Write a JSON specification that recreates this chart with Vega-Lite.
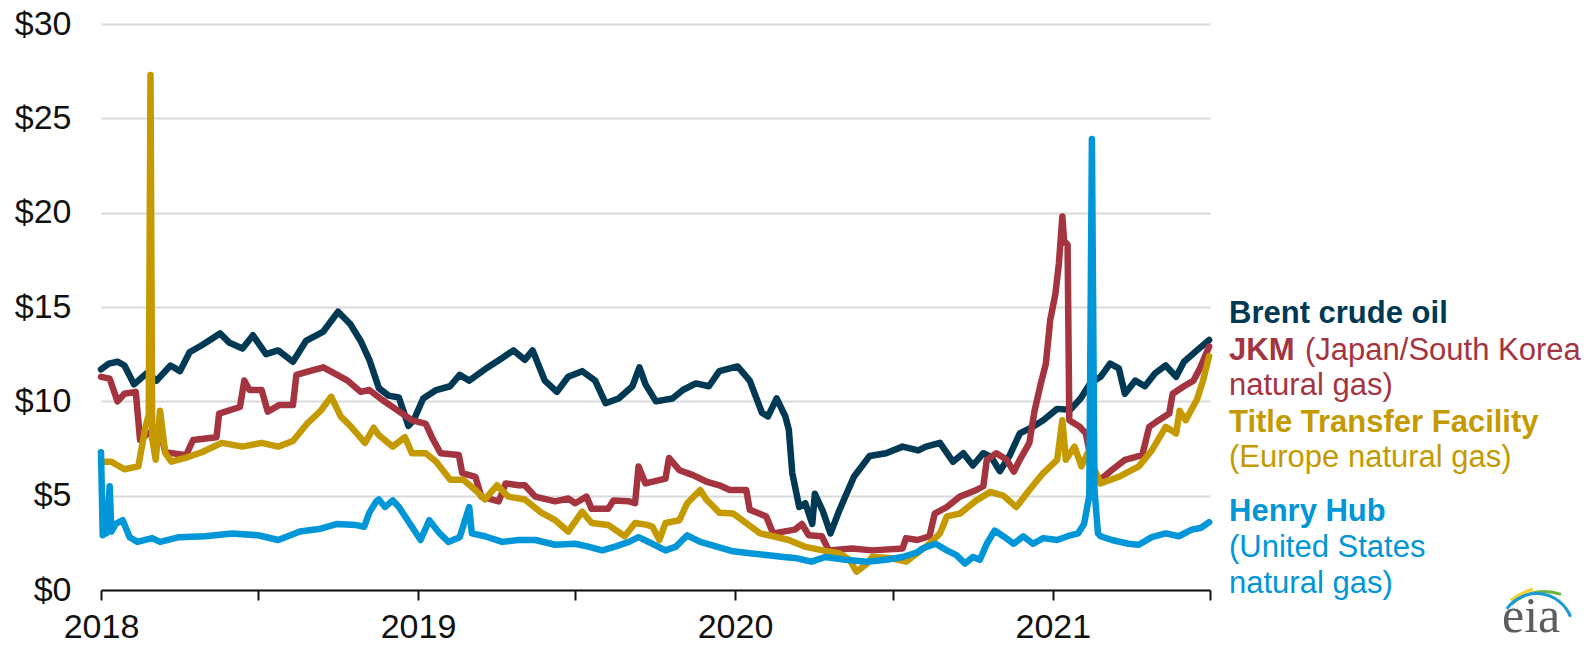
{
  "$schema": "https://vega.github.io/schema/vega-lite/v6.json",
  "autosize": {"type": "none"},
  "width": 1109,
  "height": 566,
  "padding": {"left": 101, "top": 24, "right": 378, "bottom": 56},
  "background": "white",
  "config": {"view": {"stroke": null}, "font": "Liberation Sans"},
  "datasets": {
    "prices": [
      {"s":"Brent","d":"2018-01-01","v":11.7},{"s":"Brent","d":"2018-01-10","v":12.0},{"s":"Brent","d":"2018-01-20","v":12.1},{"s":"Brent","d":"2018-01-28","v":11.9},{"s":"Brent","d":"2018-02-08","v":10.9},{"s":"Brent","d":"2018-02-23","v":11.5},{"s":"Brent","d":"2018-03-06","v":11.1},{"s":"Brent","d":"2018-03-22","v":11.9},{"s":"Brent","d":"2018-04-02","v":11.6},{"s":"Brent","d":"2018-04-13","v":12.6},{"s":"Brent","d":"2018-04-28","v":13.0},{"s":"Brent","d":"2018-05-18","v":13.6},{"s":"Brent","d":"2018-05-29","v":13.1},{"s":"Brent","d":"2018-06-13","v":12.8},{"s":"Brent","d":"2018-06-25","v":13.5},{"s":"Brent","d":"2018-07-10","v":12.5},{"s":"Brent","d":"2018-07-24","v":12.7},{"s":"Brent","d":"2018-08-10","v":12.1},{"s":"Brent","d":"2018-08-25","v":13.2},{"s":"Brent","d":"2018-09-14","v":13.7},{"s":"Brent","d":"2018-10-01","v":14.75},{"s":"Brent","d":"2018-10-15","v":14.1},{"s":"Brent","d":"2018-10-27","v":13.2},{"s":"Brent","d":"2018-11-06","v":12.2},{"s":"Brent","d":"2018-11-17","v":10.7},{"s":"Brent","d":"2018-11-28","v":10.3},{"s":"Brent","d":"2018-12-10","v":10.2},{"s":"Brent","d":"2018-12-21","v":8.7},{"s":"Brent","d":"2018-12-27","v":9.0},{"s":"Brent","d":"2019-01-07","v":10.15},{"s":"Brent","d":"2019-01-22","v":10.6},{"s":"Brent","d":"2019-02-07","v":10.8},{"s":"Brent","d":"2019-02-18","v":11.4},{"s":"Brent","d":"2019-03-01","v":11.1},{"s":"Brent","d":"2019-03-19","v":11.7},{"s":"Brent","d":"2019-04-08","v":12.3},{"s":"Brent","d":"2019-04-21","v":12.7},{"s":"Brent","d":"2019-05-04","v":12.2},{"s":"Brent","d":"2019-05-13","v":12.7},{"s":"Brent","d":"2019-05-27","v":11.1},{"s":"Brent","d":"2019-06-10","v":10.5},{"s":"Brent","d":"2019-06-23","v":11.3},{"s":"Brent","d":"2019-07-09","v":11.6},{"s":"Brent","d":"2019-07-24","v":11.1},{"s":"Brent","d":"2019-08-05","v":9.9},{"s":"Brent","d":"2019-08-20","v":10.15},{"s":"Brent","d":"2019-09-05","v":10.8},{"s":"Brent","d":"2019-09-13","v":11.8},{"s":"Brent","d":"2019-09-20","v":10.9},{"s":"Brent","d":"2019-10-02","v":10.0},{"s":"Brent","d":"2019-10-21","v":10.15},{"s":"Brent","d":"2019-11-02","v":10.6},{"s":"Brent","d":"2019-11-17","v":10.95},{"s":"Brent","d":"2019-12-02","v":10.8},{"s":"Brent","d":"2019-12-14","v":11.6},{"s":"Brent","d":"2020-01-04","v":11.85},{"s":"Brent","d":"2020-01-18","v":11.1},{"s":"Brent","d":"2020-02-01","v":9.4},{"s":"Brent","d":"2020-02-08","v":9.2},{"s":"Brent","d":"2020-02-18","v":10.15},{"s":"Brent","d":"2020-02-28","v":9.2},{"s":"Brent","d":"2020-03-03","v":8.5},{"s":"Brent","d":"2020-03-07","v":6.2},{"s":"Brent","d":"2020-03-15","v":4.4},{"s":"Brent","d":"2020-03-22","v":4.6},{"s":"Brent","d":"2020-03-30","v":3.5},{"s":"Brent","d":"2020-04-02","v":5.1},{"s":"Brent","d":"2020-04-11","v":4.2},{"s":"Brent","d":"2020-04-20","v":3.0},{"s":"Brent","d":"2020-04-30","v":4.2},{"s":"Brent","d":"2020-05-07","v":4.95},{"s":"Brent","d":"2020-05-17","v":6.0},{"s":"Brent","d":"2020-06-04","v":7.1},{"s":"Brent","d":"2020-06-23","v":7.25},{"s":"Brent","d":"2020-07-12","v":7.6},{"s":"Brent","d":"2020-07-30","v":7.4},{"s":"Brent","d":"2020-08-08","v":7.6},{"s":"Brent","d":"2020-08-24","v":7.8},{"s":"Brent","d":"2020-09-08","v":6.8},{"s":"Brent","d":"2020-09-20","v":7.25},{"s":"Brent","d":"2020-10-01","v":6.6},{"s":"Brent","d":"2020-10-13","v":7.25},{"s":"Brent","d":"2020-10-22","v":7.05},{"s":"Brent","d":"2020-11-01","v":6.3},{"s":"Brent","d":"2020-11-12","v":7.1},{"s":"Brent","d":"2020-11-24","v":8.3},{"s":"Brent","d":"2020-12-09","v":8.65},{"s":"Brent","d":"2020-12-21","v":9.0},{"s":"Brent","d":"2021-01-06","v":9.6},{"s":"Brent","d":"2021-01-21","v":9.55},{"s":"Brent","d":"2021-02-02","v":10.15},{"s":"Brent","d":"2021-02-13","v":10.95},{"s":"Brent","d":"2021-02-25","v":11.3},{"s":"Brent","d":"2021-03-08","v":12.0},{"s":"Brent","d":"2021-03-18","v":11.75},{"s":"Brent","d":"2021-03-25","v":10.4},{"s":"Brent","d":"2021-04-06","v":11.1},{"s":"Brent","d":"2021-04-17","v":10.8},{"s":"Brent","d":"2021-04-29","v":11.5},{"s":"Brent","d":"2021-05-11","v":11.9},{"s":"Brent","d":"2021-05-23","v":11.3},{"s":"Brent","d":"2021-06-01","v":12.1},{"s":"Brent","d":"2021-06-16","v":12.7},{"s":"Brent","d":"2021-06-30","v":13.25},

      {"s":"JKM","d":"2018-01-01","v":11.3},{"s":"JKM","d":"2018-01-11","v":11.2},{"s":"JKM","d":"2018-01-20","v":10.0},{"s":"JKM","d":"2018-01-28","v":10.4},{"s":"JKM","d":"2018-02-10","v":10.5},{"s":"JKM","d":"2018-02-15","v":7.95},{"s":"JKM","d":"2018-02-24","v":8.3},{"s":"JKM","d":"2018-03-10","v":8.5},{"s":"JKM","d":"2018-03-16","v":7.3},{"s":"JKM","d":"2018-04-09","v":7.15},{"s":"JKM","d":"2018-04-17","v":7.95},{"s":"JKM","d":"2018-05-14","v":8.1},{"s":"JKM","d":"2018-05-17","v":9.35},{"s":"JKM","d":"2018-06-10","v":9.7},{"s":"JKM","d":"2018-06-15","v":11.1},{"s":"JKM","d":"2018-06-21","v":10.6},{"s":"JKM","d":"2018-07-05","v":10.6},{"s":"JKM","d":"2018-07-12","v":9.45},{"s":"JKM","d":"2018-07-25","v":9.8},{"s":"JKM","d":"2018-08-10","v":9.8},{"s":"JKM","d":"2018-08-14","v":11.4},{"s":"JKM","d":"2018-08-29","v":11.6},{"s":"JKM","d":"2018-09-14","v":11.8},{"s":"JKM","d":"2018-09-30","v":11.4},{"s":"JKM","d":"2018-10-12","v":11.1},{"s":"JKM","d":"2018-10-27","v":10.5},{"s":"JKM","d":"2018-11-06","v":10.6},{"s":"JKM","d":"2018-11-21","v":10.07},{"s":"JKM","d":"2018-12-06","v":9.6},{"s":"JKM","d":"2018-12-25","v":9.0},{"s":"JKM","d":"2019-01-10","v":8.8},{"s":"JKM","d":"2019-01-17","v":8.1},{"s":"JKM","d":"2019-01-27","v":7.25},{"s":"JKM","d":"2019-02-17","v":7.15},{"s":"JKM","d":"2019-02-21","v":6.2},{"s":"JKM","d":"2019-03-08","v":6.0},{"s":"JKM","d":"2019-03-15","v":4.95},{"s":"JKM","d":"2019-04-04","v":4.7},{"s":"JKM","d":"2019-04-12","v":5.65},{"s":"JKM","d":"2019-04-27","v":5.55},{"s":"JKM","d":"2019-05-04","v":5.55},{"s":"JKM","d":"2019-05-16","v":4.95},{"s":"JKM","d":"2019-06-08","v":4.7},{"s":"JKM","d":"2019-06-23","v":4.85},{"s":"JKM","d":"2019-07-01","v":4.6},{"s":"JKM","d":"2019-07-14","v":4.95},{"s":"JKM","d":"2019-07-20","v":4.3},{"s":"JKM","d":"2019-08-08","v":4.3},{"s":"JKM","d":"2019-08-14","v":4.75},{"s":"JKM","d":"2019-09-01","v":4.7},{"s":"JKM","d":"2019-09-08","v":4.6},{"s":"JKM","d":"2019-09-12","v":6.55},{"s":"JKM","d":"2019-09-20","v":5.65},{"s":"JKM","d":"2019-10-13","v":5.9},{"s":"JKM","d":"2019-10-17","v":7.0},{"s":"JKM","d":"2019-10-29","v":6.35},{"s":"JKM","d":"2019-11-13","v":6.1},{"s":"JKM","d":"2019-11-29","v":5.75},{"s":"JKM","d":"2019-12-14","v":5.55},{"s":"JKM","d":"2019-12-26","v":5.3},{"s":"JKM","d":"2020-01-14","v":5.3},{"s":"JKM","d":"2020-01-18","v":4.25},{"s":"JKM","d":"2020-02-06","v":3.9},{"s":"JKM","d":"2020-02-14","v":3.0},{"s":"JKM","d":"2020-03-10","v":3.2},{"s":"JKM","d":"2020-03-18","v":3.5},{"s":"JKM","d":"2020-03-26","v":2.9},{"s":"JKM","d":"2020-04-10","v":2.85},{"s":"JKM","d":"2020-04-18","v":2.1},{"s":"JKM","d":"2020-05-15","v":2.2},{"s":"JKM","d":"2020-06-07","v":2.1},{"s":"JKM","d":"2020-07-12","v":2.2},{"s":"JKM","d":"2020-07-16","v":2.75},{"s":"JKM","d":"2020-07-29","v":2.65},{"s":"JKM","d":"2020-08-12","v":2.85},{"s":"JKM","d":"2020-08-18","v":4.05},{"s":"JKM","d":"2020-09-01","v":4.4},{"s":"JKM","d":"2020-09-16","v":4.95},{"s":"JKM","d":"2020-10-05","v":5.3},{"s":"JKM","d":"2020-10-13","v":5.5},{"s":"JKM","d":"2020-10-17","v":6.9},{"s":"JKM","d":"2020-10-28","v":7.25},{"s":"JKM","d":"2020-11-09","v":6.9},{"s":"JKM","d":"2020-11-17","v":6.27},{"s":"JKM","d":"2020-11-24","v":6.9},{"s":"JKM","d":"2020-12-05","v":7.8},{"s":"JKM","d":"2020-12-11","v":9.5},{"s":"JKM","d":"2020-12-18","v":10.9},{"s":"JKM","d":"2020-12-24","v":12.0},{"s":"JKM","d":"2020-12-29","v":14.3},{"s":"JKM","d":"2021-01-04","v":15.7},{"s":"JKM","d":"2021-01-08","v":17.3},{"s":"JKM","d":"2021-01-12","v":19.8},{"s":"JKM","d":"2021-01-14","v":18.5},{"s":"JKM","d":"2021-01-18","v":18.3},{"s":"JKM","d":"2021-01-20","v":9.0},{"s":"JKM","d":"2021-02-01","v":8.65},{"s":"JKM","d":"2021-02-08","v":8.3},{"s":"JKM","d":"2021-02-18","v":6.0},{"s":"JKM","d":"2021-02-26","v":5.9},{"s":"JKM","d":"2021-03-10","v":6.36},{"s":"JKM","d":"2021-03-25","v":6.9},{"s":"JKM","d":"2021-04-14","v":7.15},{"s":"JKM","d":"2021-04-22","v":8.65},{"s":"JKM","d":"2021-05-03","v":9.0},{"s":"JKM","d":"2021-05-15","v":9.35},{"s":"JKM","d":"2021-05-19","v":10.4},{"s":"JKM","d":"2021-06-01","v":10.8},{"s":"JKM","d":"2021-06-12","v":11.1},{"s":"JKM","d":"2021-06-20","v":11.8},{"s":"JKM","d":"2021-06-30","v":12.9},

      {"s":"TTF","d":"2018-01-01","v":6.8},{"s":"TTF","d":"2018-01-13","v":6.8},{"s":"TTF","d":"2018-01-28","v":6.4},{"s":"TTF","d":"2018-02-13","v":6.55},{"s":"TTF","d":"2018-02-21","v":8.6},{"s":"TTF","d":"2018-02-25","v":9.3},{"s":"TTF","d":"2018-02-27","v":27.3},{"s":"TTF","d":"2018-03-01","v":8.0},{"s":"TTF","d":"2018-03-05","v":6.9},{"s":"TTF","d":"2018-03-10","v":9.5},{"s":"TTF","d":"2018-03-16","v":7.25},{"s":"TTF","d":"2018-03-23","v":6.8},{"s":"TTF","d":"2018-04-08","v":7.0},{"s":"TTF","d":"2018-04-27","v":7.3},{"s":"TTF","d":"2018-05-20","v":7.8},{"s":"TTF","d":"2018-06-13","v":7.6},{"s":"TTF","d":"2018-07-05","v":7.8},{"s":"TTF","d":"2018-07-24","v":7.6},{"s":"TTF","d":"2018-08-10","v":7.9},{"s":"TTF","d":"2018-08-26","v":8.8},{"s":"TTF","d":"2018-09-11","v":9.5},{"s":"TTF","d":"2018-09-23","v":10.25},{"s":"TTF","d":"2018-10-04","v":9.2},{"s":"TTF","d":"2018-10-16","v":8.65},{"s":"TTF","d":"2018-11-01","v":7.8},{"s":"TTF","d":"2018-11-11","v":8.6},{"s":"TTF","d":"2018-11-17","v":8.2},{"s":"TTF","d":"2018-12-03","v":7.6},{"s":"TTF","d":"2018-12-17","v":8.1},{"s":"TTF","d":"2018-12-25","v":7.25},{"s":"TTF","d":"2019-01-10","v":7.25},{"s":"TTF","d":"2019-01-22","v":6.8},{"s":"TTF","d":"2019-02-07","v":5.85},{"s":"TTF","d":"2019-02-22","v":5.85},{"s":"TTF","d":"2019-03-08","v":5.3},{"s":"TTF","d":"2019-03-19","v":4.8},{"s":"TTF","d":"2019-04-02","v":5.55},{"s":"TTF","d":"2019-04-15","v":4.95},{"s":"TTF","d":"2019-05-04","v":4.8},{"s":"TTF","d":"2019-05-23","v":4.1},{"s":"TTF","d":"2019-06-08","v":3.7},{"s":"TTF","d":"2019-06-23","v":3.1},{"s":"TTF","d":"2019-07-09","v":4.15},{"s":"TTF","d":"2019-07-20","v":3.55},{"s":"TTF","d":"2019-08-08","v":3.45},{"s":"TTF","d":"2019-08-27","v":2.85},{"s":"TTF","d":"2019-09-08","v":3.55},{"s":"TTF","d":"2019-09-22","v":3.45},{"s":"TTF","d":"2019-09-28","v":3.35},{"s":"TTF","d":"2019-10-06","v":2.65},{"s":"TTF","d":"2019-10-13","v":3.55},{"s":"TTF","d":"2019-10-29","v":3.7},{"s":"TTF","d":"2019-11-07","v":4.6},{"s":"TTF","d":"2019-11-22","v":5.3},{"s":"TTF","d":"2019-11-29","v":4.8},{"s":"TTF","d":"2019-12-14","v":4.1},{"s":"TTF","d":"2019-12-30","v":4.05},{"s":"TTF","d":"2020-01-14","v":3.55},{"s":"TTF","d":"2020-01-30","v":3.0},{"s":"TTF","d":"2020-02-14","v":2.85},{"s":"TTF","d":"2020-03-03","v":2.65},{"s":"TTF","d":"2020-03-21","v":2.3},{"s":"TTF","d":"2020-04-11","v":2.1},{"s":"TTF","d":"2020-04-30","v":1.95},{"s":"TTF","d":"2020-05-12","v":1.6},{"s":"TTF","d":"2020-05-20","v":0.97},{"s":"TTF","d":"2020-06-01","v":1.4},{"s":"TTF","d":"2020-06-07","v":1.75},{"s":"TTF","d":"2020-06-27","v":1.7},{"s":"TTF","d":"2020-07-16","v":1.5},{"s":"TTF","d":"2020-07-29","v":1.95},{"s":"TTF","d":"2020-08-12","v":2.45},{"s":"TTF","d":"2020-08-24","v":3.0},{"s":"TTF","d":"2020-09-01","v":3.9},{"s":"TTF","d":"2020-09-16","v":4.05},{"s":"TTF","d":"2020-10-05","v":4.75},{"s":"TTF","d":"2020-10-21","v":5.2},{"s":"TTF","d":"2020-11-05","v":5.0},{"s":"TTF","d":"2020-11-20","v":4.4},{"s":"TTF","d":"2020-12-05","v":5.3},{"s":"TTF","d":"2020-12-21","v":6.2},{"s":"TTF","d":"2021-01-06","v":6.9},{"s":"TTF","d":"2021-01-12","v":9.0},{"s":"TTF","d":"2021-01-16","v":6.9},{"s":"TTF","d":"2021-01-26","v":7.6},{"s":"TTF","d":"2021-02-03","v":6.55},{"s":"TTF","d":"2021-02-10","v":7.25},{"s":"TTF","d":"2021-02-25","v":5.65},{"s":"TTF","d":"2021-03-18","v":6.0},{"s":"TTF","d":"2021-04-10","v":6.55},{"s":"TTF","d":"2021-04-25","v":7.4},{"s":"TTF","d":"2021-05-11","v":8.65},{"s":"TTF","d":"2021-05-23","v":8.3},{"s":"TTF","d":"2021-05-27","v":9.5},{"s":"TTF","d":"2021-06-03","v":9.0},{"s":"TTF","d":"2021-06-16","v":10.1},{"s":"TTF","d":"2021-06-23","v":11.1},{"s":"TTF","d":"2021-06-30","v":12.4},

      {"s":"HH","d":"2018-01-01","v":7.3},{"s":"HH","d":"2018-01-03","v":2.9},{"s":"HH","d":"2018-01-05","v":3.8},{"s":"HH","d":"2018-01-07","v":3.0},{"s":"HH","d":"2018-01-11","v":5.5},{"s":"HH","d":"2018-01-13","v":3.1},{"s":"HH","d":"2018-01-18","v":3.5},{"s":"HH","d":"2018-01-26","v":3.7},{"s":"HH","d":"2018-02-03","v":2.8},{"s":"HH","d":"2018-02-12","v":2.55},{"s":"HH","d":"2018-03-01","v":2.75},{"s":"HH","d":"2018-03-10","v":2.55},{"s":"HH","d":"2018-04-01","v":2.8},{"s":"HH","d":"2018-05-01","v":2.85},{"s":"HH","d":"2018-06-01","v":3.0},{"s":"HH","d":"2018-07-01","v":2.9},{"s":"HH","d":"2018-07-24","v":2.65},{"s":"HH","d":"2018-08-18","v":3.1},{"s":"HH","d":"2018-09-11","v":3.25},{"s":"HH","d":"2018-09-30","v":3.5},{"s":"HH","d":"2018-10-21","v":3.45},{"s":"HH","d":"2018-10-31","v":3.35},{"s":"HH","d":"2018-11-06","v":4.1},{"s":"HH","d":"2018-11-14","v":4.7},{"s":"HH","d":"2018-11-17","v":4.8},{"s":"HH","d":"2018-11-24","v":4.4},{"s":"HH","d":"2018-12-03","v":4.75},{"s":"HH","d":"2018-12-10","v":4.4},{"s":"HH","d":"2018-12-25","v":3.35},{"s":"HH","d":"2019-01-04","v":2.65},{"s":"HH","d":"2019-01-14","v":3.7},{"s":"HH","d":"2019-01-26","v":3.0},{"s":"HH","d":"2019-02-05","v":2.55},{"s":"HH","d":"2019-02-18","v":2.8},{"s":"HH","d":"2019-03-01","v":4.4},{"s":"HH","d":"2019-03-04","v":3.0},{"s":"HH","d":"2019-03-19","v":2.85},{"s":"HH","d":"2019-04-08","v":2.55},{"s":"HH","d":"2019-04-27","v":2.65},{"s":"HH","d":"2019-05-16","v":2.65},{"s":"HH","d":"2019-06-08","v":2.4},{"s":"HH","d":"2019-07-01","v":2.45},{"s":"HH","d":"2019-07-16","v":2.3},{"s":"HH","d":"2019-08-01","v":2.1},{"s":"HH","d":"2019-08-16","v":2.3},{"s":"HH","d":"2019-09-01","v":2.55},{"s":"HH","d":"2019-09-12","v":2.8},{"s":"HH","d":"2019-09-28","v":2.45},{"s":"HH","d":"2019-10-13","v":2.1},{"s":"HH","d":"2019-10-25","v":2.3},{"s":"HH","d":"2019-11-07","v":2.9},{"s":"HH","d":"2019-11-22","v":2.55},{"s":"HH","d":"2019-12-11","v":2.3},{"s":"HH","d":"2019-12-30","v":2.05},{"s":"HH","d":"2020-01-18","v":1.95},{"s":"HH","d":"2020-02-06","v":1.85},{"s":"HH","d":"2020-02-26","v":1.75},{"s":"HH","d":"2020-03-10","v":1.7},{"s":"HH","d":"2020-03-29","v":1.5},{"s":"HH","d":"2020-04-14","v":1.75},{"s":"HH","d":"2020-05-07","v":1.6},{"s":"HH","d":"2020-06-01","v":1.5},{"s":"HH","d":"2020-06-23","v":1.6},{"s":"HH","d":"2020-07-12","v":1.75},{"s":"HH","d":"2020-07-29","v":2.0},{"s":"HH","d":"2020-08-04","v":2.2},{"s":"HH","d":"2020-08-19","v":2.45},{"s":"HH","d":"2020-09-01","v":2.1},{"s":"HH","d":"2020-09-12","v":1.85},{"s":"HH","d":"2020-09-22","v":1.4},{"s":"HH","d":"2020-10-01","v":1.75},{"s":"HH","d":"2020-10-09","v":1.6},{"s":"HH","d":"2020-10-17","v":2.45},{"s":"HH","d":"2020-10-26","v":3.15},{"s":"HH","d":"2020-11-05","v":2.85},{"s":"HH","d":"2020-11-17","v":2.45},{"s":"HH","d":"2020-11-28","v":2.85},{"s":"HH","d":"2020-12-09","v":2.45},{"s":"HH","d":"2020-12-21","v":2.75},{"s":"HH","d":"2021-01-06","v":2.65},{"s":"HH","d":"2021-01-18","v":2.85},{"s":"HH","d":"2021-01-30","v":3.0},{"s":"HH","d":"2021-02-06","v":3.5},{"s":"HH","d":"2021-02-12","v":5.0},{"s":"HH","d":"2021-02-15","v":23.9},{"s":"HH","d":"2021-02-18","v":5.3},{"s":"HH","d":"2021-02-22","v":3.0},{"s":"HH","d":"2021-02-25","v":2.85},{"s":"HH","d":"2021-03-10","v":2.65},{"s":"HH","d":"2021-03-29","v":2.45},{"s":"HH","d":"2021-04-10","v":2.4},{"s":"HH","d":"2021-04-25","v":2.8},{"s":"HH","d":"2021-05-11","v":3.0},{"s":"HH","d":"2021-05-26","v":2.85},{"s":"HH","d":"2021-06-10","v":3.2},{"s":"HH","d":"2021-06-21","v":3.3},{"s":"HH","d":"2021-06-30","v":3.6}
    ],
    "labelsBold": [
      {"s":"Brent","t":"Brent crude oil","d":"2021-07-01","v":14.13},
      {"s":"JKM","t":"JKM","d":"2021-07-01","v":12.19},
      {"s":"TTF","t":"Title Transfer Facility","d":"2021-07-01","v":8.39},
      {"s":"HH","t":"Henry Hub","d":"2021-07-01","v":3.67}
    ],
    "labelsPlain": [
      {"s":"JKM","t":"natural gas)","d":"2021-07-01","v":10.33},
      {"s":"TTF","t":"(Europe natural gas)","d":"2021-07-01","v":6.53},
      {"s":"HH","t":"(United States","d":"2021-07-01","v":1.77},
      {"s":"HH","t":"natural gas)","d":"2021-07-01","v":-0.18}
    ],
    "labelsJkm": [
      {"s":"JKM","t":"(Japan/South Korea","d":"2021-07-01","v":12.19}
    ],
    "logo": [
      {"t":"eia","d":"2021-07-01","v":-2.23}
    ],
    "logoBlue": [{"d":"2022-07-12","v":-2.12}],
    "logoGreen": [{"d":"2022-07-21","v":-2.65}],
    "logoYellow": [{"d":"2022-07-25","v":-3.07}]
  },
  "encoding": {
    "x": {
      "field": "d", "type": "temporal",
      "scale": {"type": "utc", "domain": ["2018-01-01", "2021-07-01"]},
      "axis": {
        "title": null,
        "grid": false,
        "values": [
          {"year": 2018, "month": 1, "date": 1, "utc": true},
          {"year": 2018, "month": 7, "date": 1, "utc": true},
          {"year": 2019, "month": 1, "date": 1, "utc": true},
          {"year": 2019, "month": 7, "date": 1, "utc": true},
          {"year": 2020, "month": 1, "date": 1, "utc": true},
          {"year": 2020, "month": 7, "date": 1, "utc": true},
          {"year": 2021, "month": 1, "date": 1, "utc": true},
          {"year": 2021, "month": 7, "date": 1, "utc": true}
        ],
        "labelExpr": "utcFormat(datum.value, '%m') == '01' ? utcFormat(datum.value, '%Y') : ''",
        "domainColor": "#111111",
        "domainWidth": 2,
        "tickColor": "#111111",
        "tickWidth": 2,
        "tickSize": 10,
        "labelFont": "Liberation Sans",
        "labelFontSize": 34,
        "labelColor": "#111111",
        "labelPadding": 10,
        "labelFlush": false,
        "labelOverlap": false
      }
    },
    "y": {
      "field": "v", "type": "quantitative",
      "scale": {"domain": [0, 30], "nice": false, "zero": true},
      "axis": {
        "title": null,
        "values": [0, 5, 10, 15, 20, 25, 30],
        "labelExpr": "'$' + datum.value",
        "domain": false,
        "ticks": false,
        "gridColor": "#dadada",
        "gridWidth": 2,
        "labelFont": "Liberation Sans",
        "labelFontSize": 34,
        "labelColor": "#111111",
        "labelPadding": 30
      }
    },
    "color": {
      "field": "s", "type": "nominal",
      "scale": {"domain": ["Brent", "JKM", "TTF", "HH"], "range": ["#003953", "#a4343f", "#c49a00", "#0096d7"]},
      "legend": null
    }
  },
  "layer": [
    {"data": {"name": "prices"}, "transform": [{"filter": "datum.s == 'Brent'"}], "mark": {"type": "line", "strokeWidth": 6.5, "strokeJoin": "round", "strokeCap": "round"}},
    {"data": {"name": "prices"}, "transform": [{"filter": "datum.s == 'JKM'"}], "mark": {"type": "line", "strokeWidth": 6.5, "strokeJoin": "round", "strokeCap": "round"}},
    {"data": {"name": "prices"}, "transform": [{"filter": "datum.s == 'TTF'"}], "mark": {"type": "line", "strokeWidth": 6.5, "strokeJoin": "round", "strokeCap": "round"}},
    {"data": {"name": "prices"}, "transform": [{"filter": "datum.s == 'HH'"}], "mark": {"type": "line", "strokeWidth": 6.5, "strokeJoin": "round", "strokeCap": "round"}},
    {"data": {"name": "labelsBold"}, "mark": {"type": "text", "align": "left", "baseline": "alphabetic", "dx": 19, "fontSize": 31, "fontWeight": "bold", "font": "Liberation Sans"}, "encoding": {"text": {"field": "t"}}},
    {"data": {"name": "labelsPlain"}, "mark": {"type": "text", "align": "left", "baseline": "alphabetic", "dx": 19, "fontSize": 31, "font": "Liberation Sans"}, "encoding": {"text": {"field": "t"}}},
    {"data": {"name": "labelsJkm"}, "mark": {"type": "text", "align": "left", "baseline": "alphabetic", "dx": 95, "fontSize": 31, "font": "Liberation Sans"}, "encoding": {"text": {"field": "t"}}},
    {"data": {"name": "logoYellow"}, "mark": {"type": "arc", "radius": 62, "radius2": 59, "theta": -0.66, "theta2": -0.25}, "encoding": {"color": {"value": "#f2d22e"}}},
    {"data": {"name": "logoGreen"}, "mark": {"type": "arc", "radius": 50, "radius2": 47, "theta": -0.75, "theta2": 0.35}, "encoding": {"color": {"value": "#6cb33f"}}},
    {"data": {"name": "logoBlue"}, "mark": {"type": "arc", "radius": 38, "radius2": 35, "theta": -0.95, "theta2": 1.2}, "encoding": {"color": {"value": "#1a9ad6"}}},
    {"data": {"name": "logo"}, "mark": {"type": "text", "align": "left", "baseline": "alphabetic", "dx": 292, "fontSize": 50, "font": "Liberation Serif"}, "encoding": {"text": {"field": "t"}, "color": {"value": "#5b5d60"}}}
  ]
}
